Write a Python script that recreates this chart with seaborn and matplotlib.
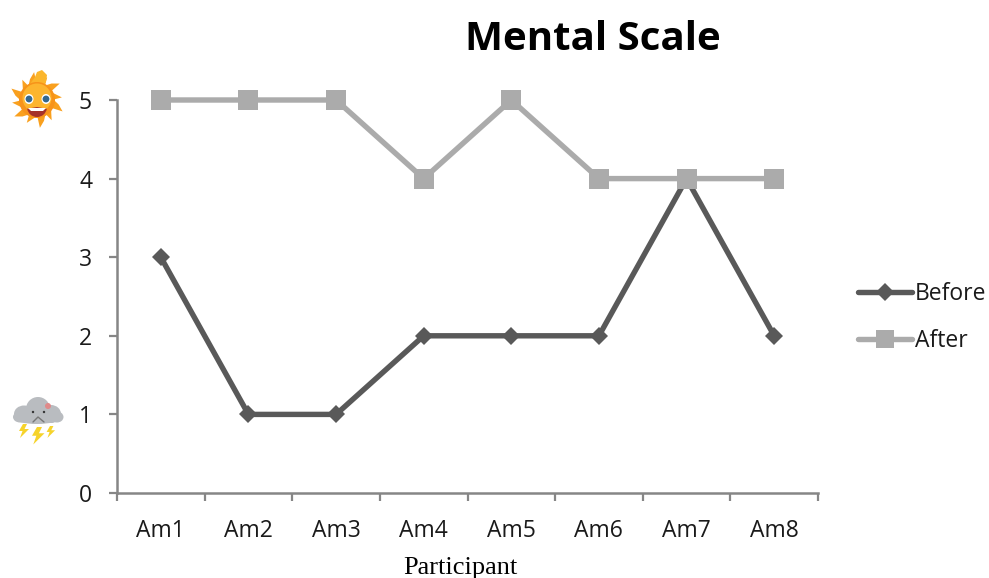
# Mental scale before / after chart
import matplotlib
matplotlib.use('Agg')
import matplotlib.pyplot as plt
import numpy as np
import pandas as pd
import seaborn as sns
from matplotlib.lines import Line2D
from matplotlib.patches import Circle, Ellipse, Polygon, Wedge

participants = ['Am1', 'Am2', 'Am3', 'Am4', 'Am5', 'Am6', 'Am7', 'Am8']
before = [3, 1, 1, 2, 2, 2, 4, 2]
after = [5, 5, 5, 4, 5, 4, 4, 4]
y_ticks = [0, 1, 2, 3, 4, 5]

dark = '#595959'
light = '#ababab'
axis_col = '#868686'
text_col = '#1a1a1a'

sns.set_theme(style='white')
plt.rcParams['font.family'] = ['Open Sans', 'DejaVu Sans']

df = pd.DataFrame({
    'Participant': participants * 2,
    'Score': before + after,
    'Series': ['Before'] * 8 + ['After'] * 8,
})

W, H = 989, 578
fig = plt.figure(figsize=(W / 100, H / 100), dpi=100)
ax = fig.add_axes([117 / W, 1 - 493 / H, 701 / W, 393 / H])

sns.lineplot(data=df, x='Participant', y='Score', hue='Series', style='Series',
             palette={'Before': dark, 'After': light},
             markers={'Before': 'D', 'After': 's'}, dashes=False,
             linewidth=3.9, legend=False, ax=ax, sort=False)
for line, size in zip(ax.lines, [9.5, 15]):
    line.set_markersize(size)
    line.set_markeredgewidth(0)
    line.set_clip_on(False)

ax.set_xlim(-0.5, 7.5)
ax.set_ylim(0, 5)
ax.set_yticks(y_ticks)
ax.set_xticks(np.arange(-0.5, 8, 1))
ax.set_xticklabels([])
ax.set_xticks(np.arange(len(participants)), labels=participants, minor=True)
ax.tick_params(axis='both', which='major', length=6, width=1.6, color=axis_col,
               direction='out', left=True, bottom=True, labelsize=16.5,
               labelcolor=text_col)
ax.tick_params(axis='y', which='major', pad=12)
ax.tick_params(axis='x', which='minor', length=0, labelsize=16.5,
               labelcolor=text_col, pad=19)
ax.set_xlabel('')
ax.set_ylabel('')
for side in ['top', 'right']:
    ax.spines[side].set_visible(False)
for side in ['left', 'bottom']:
    ax.spines[side].set_color(axis_col)
    ax.spines[side].set_linewidth(1.8)

handles = [
    Line2D([], [], color=dark, lw=3.9, marker='D', ms=9.5, mew=0, solid_capstyle='round'),
    Line2D([], [], color=light, lw=3.9, marker='s', ms=13, mew=0, solid_capstyle='round'),
]
fig.legend(handles, ['Before', 'After'], loc='center left',
           bbox_to_anchor=(858 / W, 1 - 317.5 / H), frameon=False, fontsize=16.5,
           handlelength=2.36, handletextpad=0.12, labelspacing=1.0,
           labelcolor=text_col, borderpad=0, borderaxespad=0)

fig.text(593 / W, 1 - 40 / H, 'Mental Scale', ha='center', va='center',
         fontsize=29, fontweight='bold', color='black',
         family=['Open Sans', 'DejaVu Sans'])
fig.text(460 / W, 1 - 568 / H, 'Participant', ha='center', va='center',
         fontsize=19, color='black', family=['Liberation Serif'])

# icons next to the y axis, in pixel coordinates
deco = fig.add_axes([0, 0, 1, 1], zorder=5)
deco.set_xlim(0, W)
deco.set_ylim(H, 0)
deco.axis('off')

# sun
sx, sy = 37, 100
angles = np.linspace(0, 2 * np.pi, 13)[:-1] + 0.2
for i, a in enumerate(angles):
    r = 28 if i % 2 == 0 else 25
    base = 0.32
    pts = [(sx + 15 * np.cos(a - base), sy + 15 * np.sin(a - base)),
           (sx + (r - 6) * np.cos(a), sy + (r - 6) * np.sin(a)),
           (sx + r * np.cos(a + 0.22), sy + r * np.sin(a + 0.22)),
           (sx + 15 * np.cos(a + base), sy + 15 * np.sin(a + base))]
    deco.add_patch(Polygon(pts, color='#f9a01e', lw=0))
deco.add_patch(Polygon([(30, 84), (35, 77), (37, 72), (42, 70), (47, 75), (46, 82), (44, 86)],
                       color='#fbb62c', lw=0))
deco.add_patch(Circle((sx, sy), 18, color='#f7931a', lw=0))
deco.add_patch(Circle((sx, sy - 2), 14.5, color='#fdb52e', lw=0))
for ex in [29, 46]:
    deco.add_patch(Ellipse((ex, 99), 9, 10, color='white', lw=0))
    deco.add_patch(Circle((ex, 99), 3.4, color='#35688f', lw=0))
deco.add_patch(Wedge((37, 107), 10, 10, 170, color='#a5322a', lw=0))
deco.add_patch(Polygon([(28, 108), (46, 108), (43, 111), (31, 111)], color='white', lw=0))

# storm cloud
for cx, cy, w, h in [(24, 414, 20, 17), (38, 409, 24, 24), (51, 414, 20, 18),
                     (37, 418, 46, 12), (20, 417, 14, 11), (57, 417, 13, 11)]:
    deco.add_patch(Ellipse((cx, cy), w, h, color='#b9bcc0', lw=0))
for ex in [33, 44]:
    deco.add_patch(Circle((ex, 412), 1.2, color='#333333', lw=0))
deco.plot([33, 38, 44], [422, 417, 422], color='#777777', lw=1)
deco.add_patch(Circle((48, 406), 3, color='#e08a8a', lw=0))
for bx, by, s in [(23, 424, 1.0), (37, 427, 1.25), (50, 426, 0.85)]:
    pts = [(bx, by), (bx + 4 * s, by), (bx + 1.5 * s, by + 5 * s), (bx + 6 * s, by + 5 * s),
           (bx - 3 * s, by + 14 * s), (bx - 0.5 * s, by + 7 * s), (bx - 4 * s, by + 7 * s)]
    deco.add_patch(Polygon(pts, color='#f6d32a', lw=0))

fig.savefig('out.png', dpi=100, facecolor='white')
